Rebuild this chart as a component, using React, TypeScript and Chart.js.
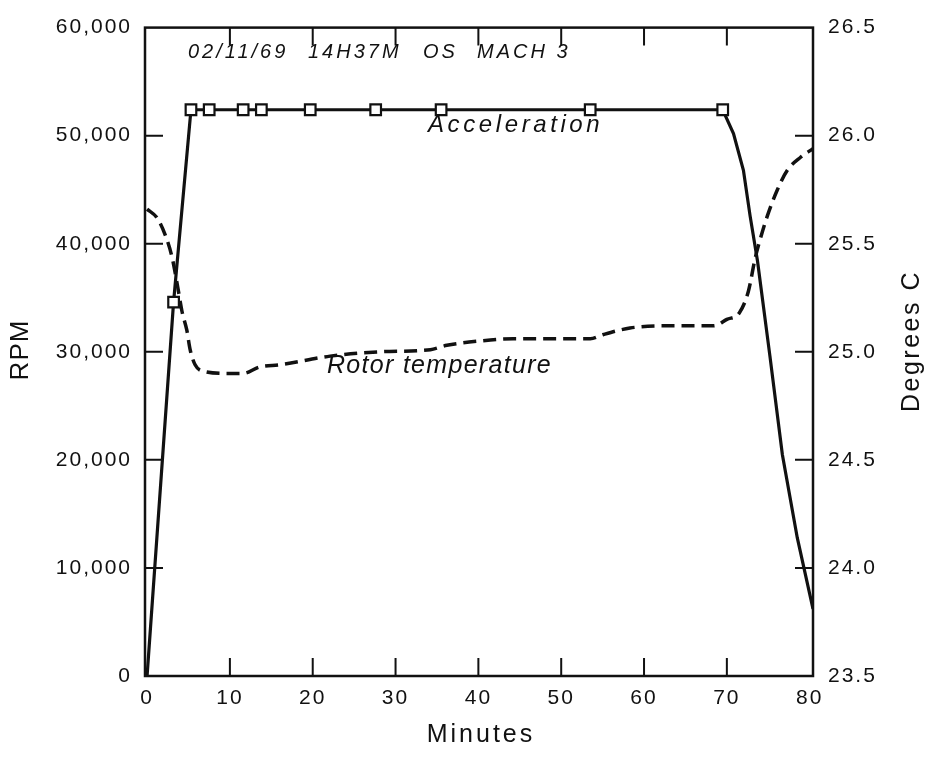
import React, { useEffect, useRef } from 'react';
import { Chart, registerables } from 'chart.js';

Chart.register(...registerables);

// ---- data ----
const xTickValues = [0, 10, 20, 30, 40, 50, 60, 70, 80];
const rpmTickValues = [0, 10000, 20000, 30000, 40000, 50000, 60000];
const degTickValues = [23.5, 24.0, 24.5, 25.0, 25.5, 26.0, 26.5];

// Acceleration curve (minutes, RPM)
const accelMinutes = [0, 3.2, 5.3, 7.5, 11.6, 13.8, 19.7, 27.6, 35.5, 53.5, 69.5, 70.8, 72.0, 72.8, 73.7, 75.2, 76.7, 78.5, 80.4];
const accelRpm = [0, 34600, 52400, 52400, 52400, 52400, 52400, 52400, 52400, 52400, 52400, 50200, 46800, 42600, 38400, 29600, 20500, 12800, 6200];

// Square sample markers on the acceleration curve
const markerMinutes = [3.2, 5.3, 7.5, 11.6, 13.8, 19.7, 27.6, 35.5, 53.5, 69.5];
const markerRpm = [34600, 52400, 52400, 52400, 52400, 52400, 52400, 52400, 52400, 52400];

// Rotor temperature (minutes, degrees C)
const tempMinutes = [0, 1.2, 2.2, 3.0, 3.7, 4.2, 4.8, 5.2, 5.8, 6.8, 9.7, 11.6, 13.6, 16.1, 22.1, 28.1, 34.2, 36.2, 40.2, 44.2, 48.3, 53.5, 55.1, 58.3, 62.3, 68.4, 70.0, 71.5, 72.6, 73.4, 73.8, 74.9, 76.1, 77.3, 78.9, 80.4];
const tempDeg = [25.66, 25.62, 25.54, 25.44, 25.30, 25.19, 25.10, 25.01, 24.94, 24.91, 24.90, 24.90, 24.93, 24.94, 24.98, 25.00, 25.01, 25.03, 25.05, 25.06, 25.06, 25.06, 25.08, 25.11, 25.12, 25.12, 25.15, 25.18, 25.28, 25.43, 25.49, 25.63, 25.75, 25.84, 25.90, 25.94];

const titleParts = ['02/11/69', '14H37M', 'OS', 'MACH 3'];
const accelLabel = 'Acceleration';
const tempLabel = 'Rotor temperature';
const xTitle = 'Minutes';
const yTitle = 'RPM';
const y2Title = 'Degrees C';

const FONT = '"Liberation Sans", Arial, Helvetica, sans-serif';
const INK = '#111111';

export default function App() {
  const ref = useRef<HTMLCanvasElement>(null);

  useEffect(() => {
    const canvas = ref.current;
    if (!canvas) return;

    const framePlugin = {
      id: 'framePlugin',
      beforeLayout(c: any) {
        c.ctx.letterSpacing = '2px';
      },
      beforeDraw(c: any) {
        c.ctx.letterSpacing = '2px';
      },
      afterDatasetsDraw(c: any) {
        const { ctx, chartArea } = c;
        const { left, right, top, bottom } = chartArea;
        const xs = c.scales.x;
        const ys = c.scales.y;
        ctx.save();
        ctx.strokeStyle = INK;
        ctx.lineWidth = 2.5;
        ctx.strokeRect(left, top, right - left, bottom - top);
        ctx.lineWidth = 2;
        const TL = 18;
        ctx.beginPath();
        xTickValues.slice(1, -1).forEach((v) => {
          const px = xs.getPixelForValue(v);
          ctx.moveTo(px, bottom);
          ctx.lineTo(px, bottom - TL);
          ctx.moveTo(px, top);
          ctx.lineTo(px, top + TL);
        });
        rpmTickValues.slice(1, -1).forEach((v) => {
          const py = ys.getPixelForValue(v);
          ctx.moveTo(left, py);
          ctx.lineTo(left + TL, py);
          ctx.moveTo(right, py);
          ctx.lineTo(right - TL, py);
        });
        ctx.stroke();
        ctx.restore();
      },
      afterDraw(c: any) {
        const { ctx, chartArea } = c;
        ctx.save();
        ctx.fillStyle = INK;
        ctx.textBaseline = 'alphabetic';

        // header annotation
        ctx.font = `italic 20px ${FONT}`;
        ctx.letterSpacing = '3px';
        ctx.textAlign = 'left';
        const titleX = [188, 308, 423, 477];
        titleParts.forEach((t, i) => ctx.fillText(t, titleX[i], 58));

        // curve labels
        ctx.font = `italic 24px ${FONT}`;
        ctx.letterSpacing = '3.6px';
        ctx.fillText(accelLabel, 428, 132);
        ctx.font = `italic 25px ${FONT}`;
        ctx.letterSpacing = '1.3px';
        ctx.fillText(tempLabel, 327, 373);

        // axis titles
        ctx.font = `25px ${FONT}`;
        ctx.letterSpacing = '3px';
        ctx.textAlign = 'center';
        ctx.textBaseline = 'middle';
        const cx = (chartArea.left + chartArea.right) / 2;
        ctx.fillText(xTitle, cx + 2, 735);

        ctx.save();
        ctx.translate(21, 350);
        ctx.rotate(-Math.PI / 2);
        ctx.font = `26px ${FONT}`;
        ctx.letterSpacing = '1px';
        ctx.fillText(yTitle, 0, 0);
        ctx.restore();

        ctx.save();
        ctx.translate(912, 342);
        ctx.rotate(-Math.PI / 2);
        ctx.letterSpacing = '2.5px';
        ctx.fillText(y2Title, 1, 0);
        ctx.restore();

        ctx.restore();
        ctx.letterSpacing = '2px';
      },
    };

    const tickFont = { family: FONT, size: 21 };

    const chart = new Chart(canvas, {
      type: 'line',
      data: {
        datasets: [
          {
            label: 'samples',
            data: markerMinutes.map((m, i) => ({ x: m, y: markerRpm[i] })),
            yAxisID: 'y',
            showLine: false,
            pointStyle: 'rect',
            pointRadius: 7.5,
            pointHoverRadius: 7.5,
            pointBackgroundColor: '#ffffff',
            pointBorderColor: INK,
            pointBorderWidth: 2.2,
            order: 0,
          },
          {
            label: accelLabel,
            data: accelMinutes.map((m, i) => ({ x: m, y: accelRpm[i] })),
            yAxisID: 'y',
            borderColor: INK,
            borderWidth: 3.2,
            pointRadius: 0,
            tension: 0,
            fill: false,
            order: 1,
          },
          {
            label: tempLabel,
            data: tempMinutes.map((m, i) => ({ x: m, y: tempDeg[i] })),
            yAxisID: 'y2',
            borderColor: INK,
            borderWidth: 3.5,
            borderDash: [13, 7],
            pointRadius: 0,
            cubicInterpolationMode: 'monotone',
            fill: false,
            order: 2,
          },
        ],
      },
      options: {
        animation: false,
        responsive: false,
        devicePixelRatio: 1,
        layout: { padding: { top: 15, left: 0, right: 0, bottom: 0 } },
        plugins: {
          legend: { display: false },
          title: { display: false },
          tooltip: { enabled: false },
        },
        events: [],
        scales: {
          x: {
            type: 'linear',
            position: 'bottom',
            min: -0.25,
            max: 80.4,
            grid: { display: false, drawTicks: false },
            border: { display: false },
            afterBuildTicks: (s: any) => {
              s.ticks = xTickValues.map((v) => ({ value: v }));
            },
            afterFit: (s: any) => {
              s.height = 85;
            },
            ticks: {
              autoSkip: false,
              maxRotation: 0,
              padding: 10,
              color: INK,
              font: tickFont,
              callback: (v: any) => String(v),
            },
          },
          y: {
            type: 'linear',
            position: 'left',
            min: 0,
            max: 60000,
            grid: { display: false, drawTicks: false },
            border: { display: false },
            afterBuildTicks: (s: any) => {
              s.ticks = rpmTickValues.map((v) => ({ value: v }));
            },
            afterFit: (s: any) => {
              s.width = 145;
            },
            ticks: {
              padding: 13,
              color: INK,
              font: tickFont,
              callback: (v: any) => Number(v).toLocaleString('en-US'),
            },
          },
          y2: {
            type: 'linear',
            position: 'right',
            min: 23.5,
            max: 26.5,
            grid: { display: false, drawTicks: false },
            border: { display: false },
            afterBuildTicks: (s: any) => {
              s.ticks = degTickValues.map((v) => ({ value: v }));
            },
            afterFit: (s: any) => {
              s.width = 113;
            },
            ticks: {
              padding: 15,
              color: INK,
              font: tickFont,
              callback: (v: any) => Number(v).toFixed(1),
            },
          },
        },
      },
      plugins: [framePlugin],
    } as any);

    return () => {
      chart.destroy();
    };
  }, []);

  return (
    <div style={{ position: 'absolute', left: 0, top: 0, width: 926, height: 761, background: '#ffffff' }}>
      <canvas ref={ref} width={926} height={761} style={{ display: 'block' }} />
    </div>
  );
}
